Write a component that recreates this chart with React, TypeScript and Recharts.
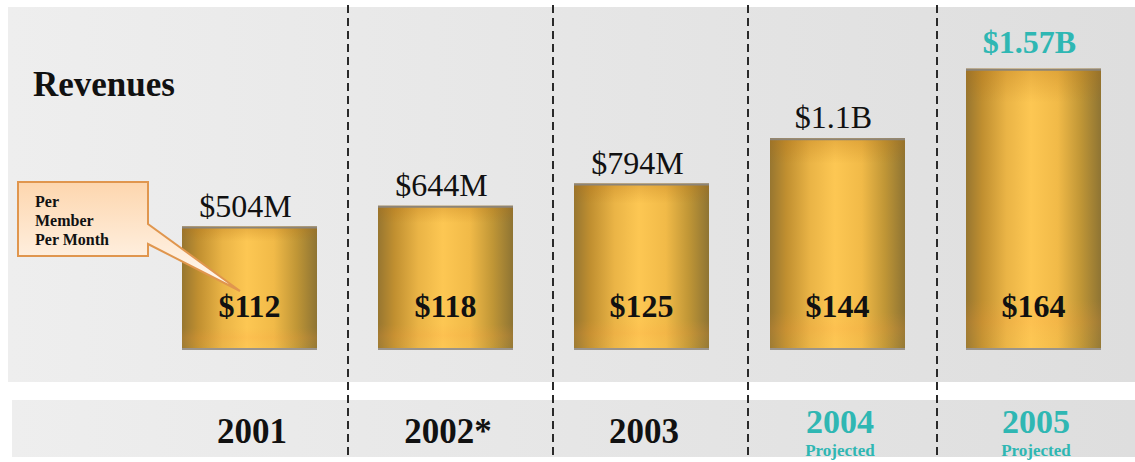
import React from 'react';
import { BarChart, Bar, XAxis, YAxis, LabelList } from 'recharts';

// ---- data ----
const years = ['2001', '2002*', '2003', '2004', '2005'];
const projected = [false, false, false, true, true];
const revenueMillions = [504, 644, 794, 1100, 1570];
const revenueLabels = ['$504M', '$644M', '$794M', '$1.1B', '$1.57B'];
const highlightRevenue = [false, false, false, false, true];
const pmpmDollars = [112, 118, 125, 144, 164];

// value axis (bars are drawn from the axis floor up to the revenue)
const AXIS_FLOOR = -330;
const AXIS_TOP = 2000;

const data = years.map((year, i) => ({
  year,
  revenue: revenueMillions[i],
  revLabel: revenueLabels[i],
  pmpm: '$' + pmpmDollars[i],
  projected: projected[i],
  highlight: highlightRevenue[i],
}));

const SERIF = '"Liberation Serif", "Times New Roman", Times, serif';
const TEAL = '#2fb7b3';
const W = 1135;
const H = 462;

const GoldBar = (props: any) => {
  const { x, y, width, height } = props;
  if (width == null || height == null) return null;
  return (
    <g>
      <rect x={x} y={y} width={width} height={height} fill="url(#goldH)" />
      <rect x={x} y={y} width={width} height={height} fill="url(#goldV)" />
      <line x1={x} x2={x + width} y1={y + 1} y2={y + 1} stroke="#8c8478" strokeWidth={2} />
      <line x1={x} x2={x + width} y1={y + height - 1} y2={y + height - 1} stroke="#9a948c" strokeWidth={2} />
    </g>
  );
};

const RevenueLabel = (props: any) => {
  const vb = props.viewBox || props;
  const x = vb.x ?? props.x;
  const y = vb.y ?? props.y;
  const width = vb.width ?? props.width;
  const i = props.index;
  const hl = data[i] && data[i].highlight;
  return (
    <text
      x={x + width / 2 - 4}
      y={y - (hl ? 16 : 10)}
      textAnchor="middle"
      fontFamily={SERIF}
      fontSize={32}
      fontWeight={hl ? 700 : 400}
      fill={hl ? TEAL : '#111'}
    >
      {props.value}
    </text>
  );
};

const PmpmLabel = (props: any) => {
  const vb = props.viewBox || props;
  const x = vb.x ?? props.x;
  const y = vb.y ?? props.y;
  const width = vb.width ?? props.width;
  const height = vb.height ?? props.height;
  return (
    <text
      x={x + width / 2}
      y={y + height - 33}
      textAnchor="middle"
      fontFamily={SERIF}
      fontSize={32}
      fontWeight={700}
      fill="#111"
    >
      {props.value}
    </text>
  );
};

const YearTick = (props: any) => {
  const { x, payload } = props;
  const i = payload.index;
  const proj = projected[i];
  return (
    <g>
      <text
        x={x + 3}
        y={proj ? 433 : 443}
        textAnchor="middle"
        fontFamily={SERIF}
        fontSize={proj ? 34 : 35}
        fontWeight={700}
        fill={proj ? TEAL : '#111'}
      >
        {payload.value}
      </text>
      {proj && (
        <text
          x={x + 3}
          y={456}
          textAnchor="middle"
          fontFamily={SERIF}
          fontSize={17}
          fontWeight={700}
          fill={TEAL}
        >
          Projected
        </text>
      )}
    </g>
  );
};

const separators = [348, 553, 748, 937];

export default function App() {
  return (
    <div style={{ position: 'absolute', left: 0, top: 0, width: W, height: H, background: '#fff' }}>
      <svg width={W} height={H} style={{ position: 'absolute', left: 0, top: 0 }}>
        <defs>
          <linearGradient id="panel" x1="0" y1="0" x2="1" y2="0">
            <stop offset="0%" stopColor="#eeeeee" />
            <stop offset="100%" stopColor="#dedede" />
          </linearGradient>
          <linearGradient id="goldH" x1="0" y1="0" x2="1" y2="0">
            <stop offset="0%" stopColor="#977630" />
            <stop offset="12%" stopColor="#c08f30" />
            <stop offset="30%" stopColor="#eab446" />
            <stop offset="48%" stopColor="#fdc753" />
            <stop offset="68%" stopColor="#f1ba48" />
            <stop offset="85%" stopColor="#c09636" />
            <stop offset="100%" stopColor="#8e7433" />
          </linearGradient>
          <linearGradient id="goldV" x1="0" y1="0" x2="0" y2="1">
            <stop offset="0%" stopColor="#b06a10" stopOpacity={0.28} />
            <stop offset="12%" stopColor="#b06a10" stopOpacity={0} />
            <stop offset="82%" stopColor="#ff9a40" stopOpacity={0} />
            <stop offset="90%" stopColor="#ff9a40" stopOpacity={0.14} />
            <stop offset="100%" stopColor="#ffd060" stopOpacity={0.05} />
          </linearGradient>
          <linearGradient id="callout" x1="0" y1="0" x2="0" y2="1">
            <stop offset="0%" stopColor="#fdd6ae" />
            <stop offset="100%" stopColor="#fffaf4" />
          </linearGradient>
        </defs>
        <rect x={8} y={7} width={W - 8} height={375} fill="url(#panel)" />
        <rect x={12} y={400} width={W - 12} height={57} fill="url(#panel)" />
        {separators.map((sx) => (
          <line key={sx} x1={sx} x2={sx} y1={5} y2={458} stroke="#2a2a2a" strokeWidth={2} strokeDasharray="8 5" />
        ))}
        <text x={33} y={96} fontFamily={SERIF} fontSize={35} fontWeight={700} fill="#111">
          Revenues
        </text>
      </svg>
      <div style={{ position: 'absolute', left: 0, top: 0 }}>
        <BarChart width={W} height={H} data={data} margin={{ top: 5, right: 4, bottom: 5, left: 151 }}>
          <XAxis
            dataKey="year"
            axisLine={false}
            tickLine={false}
            height={107}
            interval={0}
            tick={<YearTick />}
          />
          <YAxis hide type="number" domain={[AXIS_FLOOR, AXIS_TOP]} allowDataOverflow />
          <Bar
            dataKey={(d: any) => [AXIS_FLOOR, d.revenue]}
            barSize={135}
            shape={<GoldBar />}
            isAnimationActive={false}
          >
            <LabelList dataKey="revLabel" content={<RevenueLabel />} />
            <LabelList dataKey="pmpm" content={<PmpmLabel />} />
          </Bar>
        </BarChart>
      </div>
      <svg width={W} height={H} style={{ position: 'absolute', left: 0, top: 0, pointerEvents: 'none' }}>
        <path
          d="M18,182 H148 V224 L240,291 L148,244 V256 H18 Z"
          fill="url(#callout)"
          stroke="#e0964e"
          strokeWidth={2}
          strokeLinejoin="miter"
        />
        <text fontFamily={SERIF} fontSize={16} fontWeight={700} fill="#111">
          <tspan x={35} y={207}>Per</tspan>
          <tspan x={35} y={226}>Member</tspan>
          <tspan x={35} y={245}>Per Month</tspan>
        </text>
      </svg>
    </div>
  );
}
